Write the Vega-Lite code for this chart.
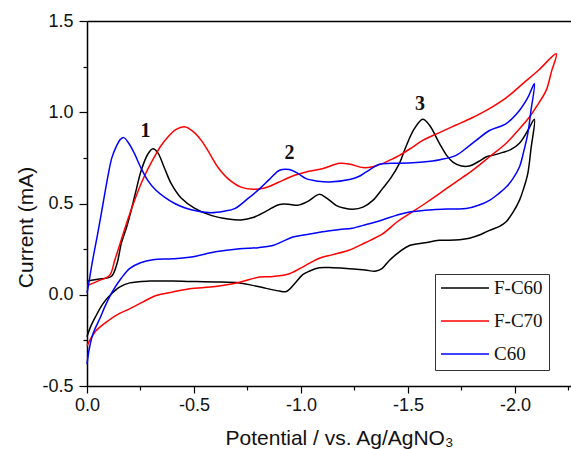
{
"$schema": "https://vega.github.io/schema/vega-lite/v6.json",
"width": 484, "height": 365,
"autosize": {"type": "none"},
"padding": {"left": 87, "top": 21, "right": 0, "bottom": 63},
"background": "white",
"config": {"view": {"stroke": null}, "font": "Liberation Sans"},
"datasets": {
"cv": [
{"s":"F-C60","i":0,"v":0,"c":0.075},{"s":"F-C60","i":1,"v":-0.05,"c":0.085},{"s":"F-C60","i":2,"v":-0.113,"c":0.1},{"s":"F-C60","i":3,"v":-0.14,"c":0.17},{"s":"F-C60","i":4,"v":-0.16,"c":0.28},{"s":"F-C60","i":5,"v":-0.185,"c":0.37},{"s":"F-C60","i":6,"v":-0.206,"c":0.46},{"s":"F-C60","i":7,"v":-0.23,"c":0.575},{"s":"F-C60","i":8,"v":-0.253,"c":0.68},{"s":"F-C60","i":9,"v":-0.284,"c":0.77},{"s":"F-C60","i":10,"v":-0.308,"c":0.8},{"s":"F-C60","i":11,"v":-0.33,"c":0.78},{"s":"F-C60","i":12,"v":-0.36,"c":0.7},{"s":"F-C60","i":13,"v":-0.393,"c":0.61},{"s":"F-C60","i":14,"v":-0.44,"c":0.53},{"s":"F-C60","i":15,"v":-0.502,"c":0.475},{"s":"F-C60","i":16,"v":-0.58,"c":0.435},{"s":"F-C60","i":17,"v":-0.66,"c":0.415},{"s":"F-C60","i":18,"v":-0.72,"c":0.41},{"s":"F-C60","i":19,"v":-0.78,"c":0.425},{"s":"F-C60","i":20,"v":-0.84,"c":0.46},{"s":"F-C60","i":21,"v":-0.9,"c":0.495},{"s":"F-C60","i":22,"v":-0.95,"c":0.495},{"s":"F-C60","i":23,"v":-0.985,"c":0.49},{"s":"F-C60","i":24,"v":-1.03,"c":0.51},{"s":"F-C60","i":25,"v":-1.086,"c":0.55},{"s":"F-C60","i":26,"v":-1.12,"c":0.53},{"s":"F-C60","i":27,"v":-1.164,"c":0.49},{"s":"F-C60","i":28,"v":-1.2,"c":0.475},{"s":"F-C60","i":29,"v":-1.242,"c":0.468},{"s":"F-C60","i":30,"v":-1.29,"c":0.48},{"s":"F-C60","i":31,"v":-1.336,"c":0.517},{"s":"F-C60","i":32,"v":-1.38,"c":0.58},{"s":"F-C60","i":33,"v":-1.42,"c":0.64},{"s":"F-C60","i":34,"v":-1.46,"c":0.72},{"s":"F-C60","i":35,"v":-1.49,"c":0.81},{"s":"F-C60","i":36,"v":-1.53,"c":0.91},{"s":"F-C60","i":37,"v":-1.569,"c":0.962},{"s":"F-C60","i":38,"v":-1.6,"c":0.93},{"s":"F-C60","i":39,"v":-1.647,"c":0.83},{"s":"F-C60","i":40,"v":-1.68,"c":0.765},{"s":"F-C60","i":41,"v":-1.71,"c":0.727},{"s":"F-C60","i":42,"v":-1.75,"c":0.705},{"s":"F-C60","i":43,"v":-1.787,"c":0.705},{"s":"F-C60","i":44,"v":-1.83,"c":0.73},{"s":"F-C60","i":45,"v":-1.865,"c":0.755},{"s":"F-C60","i":46,"v":-1.9,"c":0.765},{"s":"F-C60","i":47,"v":-1.943,"c":0.78},{"s":"F-C60","i":48,"v":-1.98,"c":0.795},{"s":"F-C60","i":49,"v":-2.021,"c":0.83},{"s":"F-C60","i":50,"v":-2.06,"c":0.9},{"s":"F-C60","i":51,"v":-2.091,"c":0.962},
{"s":"F-C60","i":52,"v":-2.075,"c":0.8},{"s":"F-C60","i":53,"v":-2.06,"c":0.664},{"s":"F-C60","i":54,"v":-2.04,"c":0.58},{"s":"F-C60","i":55,"v":-2.021,"c":0.517},{"s":"F-C60","i":56,"v":-1.99,"c":0.45},{"s":"F-C60","i":57,"v":-1.959,"c":0.4},{"s":"F-C60","i":58,"v":-1.928,"c":0.375},{"s":"F-C60","i":59,"v":-1.881,"c":0.353},{"s":"F-C60","i":60,"v":-1.84,"c":0.33},{"s":"F-C60","i":61,"v":-1.787,"c":0.31},{"s":"F-C60","i":62,"v":-1.72,"c":0.3},{"s":"F-C60","i":63,"v":-1.647,"c":0.298},{"s":"F-C60","i":64,"v":-1.58,"c":0.285},{"s":"F-C60","i":65,"v":-1.507,"c":0.27},{"s":"F-C60","i":66,"v":-1.46,"c":0.235},{"s":"F-C60","i":67,"v":-1.413,"c":0.188},{"s":"F-C60","i":68,"v":-1.38,"c":0.145},{"s":"F-C60","i":69,"v":-1.351,"c":0.13},{"s":"F-C60","i":70,"v":-1.3,"c":0.135},{"s":"F-C60","i":71,"v":-1.227,"c":0.143},{"s":"F-C60","i":72,"v":-1.15,"c":0.148},{"s":"F-C60","i":73,"v":-1.086,"c":0.148},{"s":"F-C60","i":74,"v":-1.04,"c":0.13},{"s":"F-C60","i":75,"v":-1.008,"c":0.11},{"s":"F-C60","i":76,"v":-0.97,"c":0.06},{"s":"F-C60","i":77,"v":-0.931,"c":0.018},{"s":"F-C60","i":78,"v":-0.9,"c":0.02},{"s":"F-C60","i":79,"v":-0.837,"c":0.035},{"s":"F-C60","i":80,"v":-0.78,"c":0.05},{"s":"F-C60","i":81,"v":-0.713,"c":0.065},{"s":"F-C60","i":82,"v":-0.6,"c":0.07},{"s":"F-C60","i":83,"v":-0.51,"c":0.072},{"s":"F-C60","i":84,"v":-0.4,"c":0.075},{"s":"F-C60","i":85,"v":-0.292,"c":0.075},{"s":"F-C60","i":86,"v":-0.2,"c":0.065},{"s":"F-C60","i":87,"v":-0.152,"c":0.042},{"s":"F-C60","i":88,"v":-0.11,"c":0.0},{"s":"F-C60","i":89,"v":-0.074,"c":-0.05},{"s":"F-C60","i":90,"v":-0.04,"c":-0.12},{"s":"F-C60","i":91,"v":-0.015,"c":-0.18},{"s":"F-C60","i":92,"v":0,"c":-0.23},
{"s":"F-C70","i":0,"v":0,"c":0.05},{"s":"F-C70","i":1,"v":-0.05,"c":0.075},{"s":"F-C70","i":2,"v":-0.105,"c":0.106},{"s":"F-C70","i":3,"v":-0.13,"c":0.19},{"s":"F-C70","i":4,"v":-0.16,"c":0.3},{"s":"F-C70","i":5,"v":-0.19,"c":0.41},{"s":"F-C70","i":6,"v":-0.22,"c":0.51},{"s":"F-C70","i":7,"v":-0.253,"c":0.61},{"s":"F-C70","i":8,"v":-0.285,"c":0.69},{"s":"F-C70","i":9,"v":-0.315,"c":0.755},{"s":"F-C70","i":10,"v":-0.345,"c":0.815},{"s":"F-C70","i":11,"v":-0.378,"c":0.865},{"s":"F-C70","i":12,"v":-0.415,"c":0.905},{"s":"F-C70","i":13,"v":-0.456,"c":0.92},{"s":"F-C70","i":14,"v":-0.495,"c":0.895},{"s":"F-C70","i":15,"v":-0.534,"c":0.846},{"s":"F-C70","i":16,"v":-0.57,"c":0.78},{"s":"F-C70","i":17,"v":-0.611,"c":0.7},{"s":"F-C70","i":18,"v":-0.66,"c":0.635},{"s":"F-C70","i":19,"v":-0.72,"c":0.59},{"s":"F-C70","i":20,"v":-0.775,"c":0.578},{"s":"F-C70","i":21,"v":-0.83,"c":0.585},{"s":"F-C70","i":22,"v":-0.915,"c":0.627},{"s":"F-C70","i":23,"v":-0.97,"c":0.655},{"s":"F-C70","i":24,"v":-1.024,"c":0.673},{"s":"F-C70","i":25,"v":-1.1,"c":0.69},{"s":"F-C70","i":26,"v":-1.18,"c":0.72},{"s":"F-C70","i":27,"v":-1.23,"c":0.715},{"s":"F-C70","i":28,"v":-1.289,"c":0.697},{"s":"F-C70","i":29,"v":-1.33,"c":0.7},{"s":"F-C70","i":30,"v":-1.383,"c":0.72},{"s":"F-C70","i":31,"v":-1.42,"c":0.74},{"s":"F-C70","i":32,"v":-1.46,"c":0.764},{"s":"F-C70","i":33,"v":-1.51,"c":0.8},{"s":"F-C70","i":34,"v":-1.569,"c":0.846},{"s":"F-C70","i":35,"v":-1.65,"c":0.89},{"s":"F-C70","i":36,"v":-1.725,"c":0.93},{"s":"F-C70","i":37,"v":-1.8,"c":0.97},{"s":"F-C70","i":38,"v":-1.881,"c":1.02},{"s":"F-C70","i":39,"v":-1.96,"c":1.08},{"s":"F-C70","i":40,"v":-2.037,"c":1.157},{"s":"F-C70","i":41,"v":-2.11,"c":1.23},{"s":"F-C70","i":42,"v":-2.193,"c":1.32},
{"s":"F-C70","i":43,"v":-2.17,"c":1.22},{"s":"F-C70","i":44,"v":-2.146,"c":1.12},{"s":"F-C70","i":45,"v":-2.1,"c":1.03},{"s":"F-C70","i":46,"v":-2.068,"c":0.974},{"s":"F-C70","i":47,"v":-2.01,"c":0.895},{"s":"F-C70","i":48,"v":-1.959,"c":0.83},{"s":"F-C70","i":49,"v":-1.88,"c":0.755},{"s":"F-C70","i":50,"v":-1.8,"c":0.68},{"s":"F-C70","i":51,"v":-1.72,"c":0.615},{"s":"F-C70","i":52,"v":-1.647,"c":0.554},{"s":"F-C70","i":53,"v":-1.58,"c":0.5},{"s":"F-C70","i":54,"v":-1.507,"c":0.444},{"s":"F-C70","i":55,"v":-1.45,"c":0.4},{"s":"F-C70","i":56,"v":-1.383,"c":0.335},{"s":"F-C70","i":57,"v":-1.3,"c":0.285},{"s":"F-C70","i":58,"v":-1.227,"c":0.245},{"s":"F-C70","i":59,"v":-1.15,"c":0.22},{"s":"F-C70","i":60,"v":-1.086,"c":0.2},{"s":"F-C70","i":61,"v":-1.02,"c":0.16},{"s":"F-C70","i":62,"v":-0.946,"c":0.115},{"s":"F-C70","i":63,"v":-0.87,"c":0.1},{"s":"F-C70","i":64,"v":-0.806,"c":0.097},{"s":"F-C70","i":65,"v":-0.713,"c":0.069},{"s":"F-C70","i":66,"v":-0.6,"c":0.045},{"s":"F-C70","i":67,"v":-0.479,"c":0.033},{"s":"F-C70","i":68,"v":-0.4,"c":0.015},{"s":"F-C70","i":69,"v":-0.323,"c":-0.004},{"s":"F-C70","i":70,"v":-0.26,"c":-0.04},{"s":"F-C70","i":71,"v":-0.199,"c":-0.077},{"s":"F-C70","i":72,"v":-0.14,"c":-0.11},{"s":"F-C70","i":73,"v":-0.09,"c":-0.15},{"s":"F-C70","i":74,"v":-0.04,"c":-0.2},{"s":"F-C70","i":75,"v":0,"c":-0.28},
{"s":"C60","i":0,"v":0,"c":0.01},{"s":"C60","i":1,"v":-0.005,"c":0.04},{"s":"C60","i":2,"v":-0.025,"c":0.18},{"s":"C60","i":3,"v":-0.05,"c":0.335},{"s":"C60","i":4,"v":-0.075,"c":0.5},{"s":"C60","i":5,"v":-0.097,"c":0.645},{"s":"C60","i":6,"v":-0.116,"c":0.75},{"s":"C60","i":7,"v":-0.136,"c":0.81},{"s":"C60","i":8,"v":-0.155,"c":0.85},{"s":"C60","i":9,"v":-0.172,"c":0.861},{"s":"C60","i":10,"v":-0.195,"c":0.83},{"s":"C60","i":11,"v":-0.222,"c":0.773},{"s":"C60","i":12,"v":-0.25,"c":0.7},{"s":"C60","i":13,"v":-0.284,"c":0.627},{"s":"C60","i":14,"v":-0.32,"c":0.575},{"s":"C60","i":15,"v":-0.362,"c":0.535},{"s":"C60","i":16,"v":-0.41,"c":0.5},{"s":"C60","i":17,"v":-0.456,"c":0.477},{"s":"C60","i":18,"v":-0.52,"c":0.458},{"s":"C60","i":19,"v":-0.58,"c":0.45},{"s":"C60","i":20,"v":-0.64,"c":0.458},{"s":"C60","i":21,"v":-0.69,"c":0.472},{"s":"C60","i":22,"v":-0.75,"c":0.525},{"s":"C60","i":23,"v":-0.806,"c":0.58},{"s":"C60","i":24,"v":-0.855,"c":0.635},{"s":"C60","i":25,"v":-0.9,"c":0.682},{"s":"C60","i":26,"v":-0.946,"c":0.686},{"s":"C60","i":27,"v":-0.985,"c":0.665},{"s":"C60","i":28,"v":-1.024,"c":0.636},{"s":"C60","i":29,"v":-1.08,"c":0.622},{"s":"C60","i":30,"v":-1.133,"c":0.618},{"s":"C60","i":31,"v":-1.227,"c":0.631},{"s":"C60","i":32,"v":-1.27,"c":0.648},{"s":"C60","i":33,"v":-1.305,"c":0.673},{"s":"C60","i":34,"v":-1.367,"c":0.715},{"s":"C60","i":35,"v":-1.42,"c":0.72},{"s":"C60","i":36,"v":-1.5,"c":0.722},{"s":"C60","i":37,"v":-1.569,"c":0.727},{"s":"C60","i":38,"v":-1.65,"c":0.74},{"s":"C60","i":39,"v":-1.725,"c":0.764},{"s":"C60","i":40,"v":-1.78,"c":0.81},{"s":"C60","i":41,"v":-1.819,"c":0.846},{"s":"C60","i":42,"v":-1.881,"c":0.9},{"s":"C60","i":43,"v":-1.959,"c":0.938},{"s":"C60","i":44,"v":-2.021,"c":1.01},{"s":"C60","i":45,"v":-2.06,"c":1.08},{"s":"C60","i":46,"v":-2.091,"c":1.157},
{"s":"C60","i":47,"v":-2.075,"c":1.01},{"s":"C60","i":48,"v":-2.06,"c":0.883},{"s":"C60","i":49,"v":-2.04,"c":0.78},{"s":"C60","i":50,"v":-2.021,"c":0.7},{"s":"C60","i":51,"v":-1.99,"c":0.635},{"s":"C60","i":52,"v":-1.959,"c":0.59},{"s":"C60","i":53,"v":-1.92,"c":0.55},{"s":"C60","i":54,"v":-1.881,"c":0.517},{"s":"C60","i":55,"v":-1.83,"c":0.49},{"s":"C60","i":56,"v":-1.772,"c":0.472},{"s":"C60","i":57,"v":-1.7,"c":0.47},{"s":"C60","i":58,"v":-1.616,"c":0.466},{"s":"C60","i":59,"v":-1.507,"c":0.453},{"s":"C60","i":60,"v":-1.445,"c":0.435},{"s":"C60","i":61,"v":-1.38,"c":0.41},{"s":"C60","i":62,"v":-1.305,"c":0.385},{"s":"C60","i":63,"v":-1.24,"c":0.365},{"s":"C60","i":64,"v":-1.18,"c":0.357},{"s":"C60","i":65,"v":-1.1,"c":0.345},{"s":"C60","i":66,"v":-1.03,"c":0.33},{"s":"C60","i":67,"v":-0.962,"c":0.316},{"s":"C60","i":68,"v":-0.91,"c":0.29},{"s":"C60","i":69,"v":-0.868,"c":0.27},{"s":"C60","i":70,"v":-0.8,"c":0.258},{"s":"C60","i":71,"v":-0.713,"c":0.252},{"s":"C60","i":72,"v":-0.6,"c":0.235},{"s":"C60","i":73,"v":-0.495,"c":0.208},{"s":"C60","i":74,"v":-0.4,"c":0.197},{"s":"C60","i":75,"v":-0.308,"c":0.192},{"s":"C60","i":76,"v":-0.25,"c":0.175},{"s":"C60","i":77,"v":-0.199,"c":0.143},{"s":"C60","i":78,"v":-0.16,"c":0.09},{"s":"C60","i":79,"v":-0.12,"c":0.02},{"s":"C60","i":80,"v":-0.09,"c":-0.049},{"s":"C60","i":81,"v":-0.06,"c":-0.13},{"s":"C60","i":82,"v":-0.028,"c":-0.214},{"s":"C60","i":83,"v":-0.01,"c":-0.3},{"s":"C60","i":84,"v":0,"c":-0.38}
],
"peaks": [
{"label":"1","v":-0.273,"c":0.898},
{"label":"2","v":-0.946,"c":0.775},
{"label":"3","v":-1.556,"c":1.044}
]
},
"layer": [
{
"data": {"name": "cv"},
"mark": {"type": "line", "interpolate": "catmull-rom", "strokeWidth": 1.5},
"encoding": {
"x": {"field": "v", "type": "quantitative",
 "scale": {"domain": [-2.262, 0], "reverse": true, "nice": false, "zero": false},
 "axis": {"orient": "bottom", "values": [0, -0.5, -1, -1.5, -2], "labelExpr": "(datum.value < 0 ? '-' : '') + format(abs(datum.value), '.1f')", "labelFlush": false, "grid": false, "tickSize": 7, "tickWidth": 1.2, "tickColor": "#000", "domainColor": "#000", "domainWidth": 1.5, "labelFont": "Liberation Sans", "labelFontSize": 18, "labelColor": "#111", "labelPadding": 3, "title": "Potential / vs. Ag/AgNO₃", "titleFont": "Liberation Sans", "titleFontSize": 21, "titleFontWeight": "normal", "titleColor": "#111", "titleX": 252, "titleY": 58, "titleBaseline": "alphabetic"}},
"y": {"field": "c", "type": "quantitative",
 "scale": {"domain": [-0.5, 1.5], "nice": false, "zero": false},
 "axis": {"orient": "left", "values": [-0.5, 0, 0.5, 1, 1.5], "labelExpr": "(datum.value < 0 ? '-' : '') + format(abs(datum.value), '.1f')", "labelFlush": false, "grid": false, "tickSize": 8, "tickWidth": 1.2, "tickColor": "#000", "domainColor": "#000", "domainWidth": 1.5, "labelFont": "Liberation Sans", "labelFontSize": 18, "labelColor": "#111", "labelPadding": 6, "title": "Current (mA)", "titleFont": "Liberation Sans", "titleFontSize": 21, "titleFontWeight": "normal", "titleColor": "#111", "titleX": -55, "titleY": 206, "titleBaseline": "alphabetic"}},
"order": {"field": "i", "type": "quantitative"},
"color": {"field": "s", "type": "nominal",
 "scale": {"domain": ["F-C60", "F-C70", "C60"], "range": ["#000000", "#ff0000", "#0000ff"]},
 "legend": {"orient": "none", "legendX": 348, "legendY": 253, "title": null, "padding": 6, "strokeColor": "#333", "fillColor": "white", "symbolType": "stroke", "symbolSize": 3025, "symbolStrokeWidth": 1.5, "symbolOffset": -8, "clipHeight": 16, "rowPadding": 14, "labelFont": "Liberation Serif", "labelFontSize": 19, "labelColor": "#111", "labelOffset": 4}}
}
},
{
"data": {"name": "peaks"},
"mark": {"type": "text", "font": "Liberation Serif", "fontWeight": "bold", "fontSize": 20, "baseline": "middle", "align": "center", "color": "#111"},
"encoding": {
"x": {"field": "v", "type": "quantitative", "axis": {"orient": "bottom", "values": [-0.25, -0.75, -1.25, -1.75, -2.25], "labels": false, "domain": false, "grid": false, "tickSize": 4, "tickWidth": 1.2, "tickColor": "#000", "title": null}},
"y": {"field": "c", "type": "quantitative", "axis": {"orient": "left", "values": [-0.25, 0.25, 0.75, 1.25], "labels": false, "domain": false, "grid": false, "tickSize": 4, "tickWidth": 1.2, "tickColor": "#000", "title": null}},
"text": {"field": "label", "type": "nominal"}
}
},
{
"data": {"name": "peaks"},
"mark": {"type": "point", "opacity": 0},
"encoding": {
"x": {"field": "v", "type": "quantitative", "axis": {"orient": "top", "ticks": false, "labels": false, "grid": false, "domainColor": "#000", "domainWidth": 1.5, "title": null}},
"y": {"field": "c", "type": "quantitative", "axis": null}
}
}
],
"resolve": {"axis": {"x": "independent", "y": "independent"}}
}
